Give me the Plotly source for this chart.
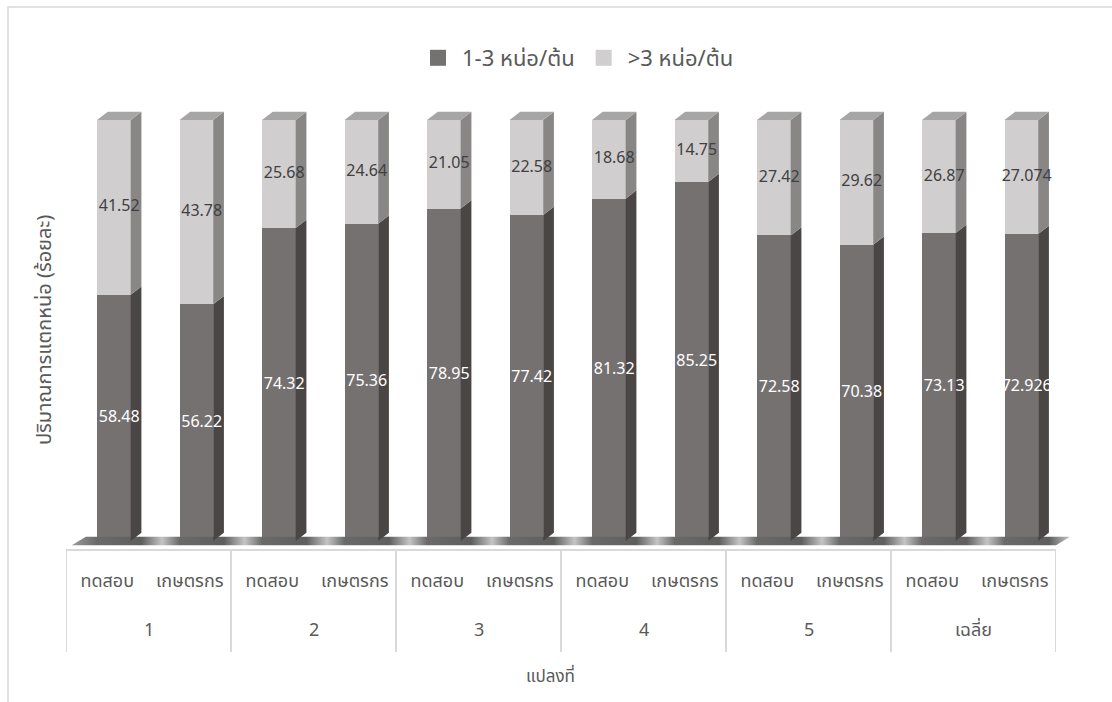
import plotly.graph_objects as go
import numpy as np

# ---------------- data ----------------
groups = ["1", "1", "2", "2", "3", "3", "4", "4", "5", "5", "เฉลี่ย", "เฉลี่ย"]
subs = ["ทดสอบ", "เกษตรกร"] * 6
low = [58.48, 56.22, 74.32, 75.36, 78.95, 77.42, 81.32, 85.25, 72.58, 70.38, 73.13, 72.926]
high = [41.52, 43.78, 25.68, 24.64, 21.05, 22.58, 18.68, 14.75, 27.42, 29.62, 26.87, 27.074]
low_labels = ["58.48", "56.22", "74.32", "75.36", "78.95", "77.42", "81.32", "85.25",
              "72.58", "70.38", "73.13", "72.926"]
high_labels = ["41.52", "43.78", "25.68", "24.64", "21.05", "22.58", "18.68", "14.75",
               "27.42", "29.62", "26.87", "27.074"]
series_names = ["1-3 หน่อ/ต้น", ">3 หน่อ/ต้น"]
y_title = "ปริมาณการแตกหน่อ (ร้อยละ)"
x_title = "แปลงที่"

# ---------------- style ----------------
FONT = "Noto Sans Thai, Leelawadee UI, Tahoma, Noto Sans, sans-serif"
W, H = 1112, 702
L, R, T, B = 66, 36, 100, 153
SLOT = 82.5
PW = W - L - R
PH = H - T - B
C_LOW, C_LOW_SIDE = "#767171", "#4b4646"
C_HIGH, C_HIGH_SIDE = "#d0cece", "#898686"
C_TOP = "#a6a6a6"
GRID = "#d9d9d9"
TXT = "#595959"


def py(pix):  # pixel row -> paper y
    return (H - B - pix) / PH


def px(pix):  # pixel column -> paper x
    return (pix - L) / PW


shift, bw, dx, dy = 0.08, 0.408, 0.13, 1.97

low = np.array(low)
high = np.array(high)
n = len(low)
idx = np.arange(n)
pos = idx + shift
xl = pos - bw / 2
xr = pos + bw / 2
top = low + high

# group spans for the two-level category table
group_names = list(dict.fromkeys(groups))
group_idx = [[i for i, g in enumerate(groups) if g == name] for name in group_names]
group_centers = [float(np.mean(ix)) for ix in group_idx]
boundaries = [ix[0] - 0.5 for ix in group_idx] + [group_idx[-1][-1] + 0.5]


def side_poly(y0, y1):
    xs, ys = [], []
    for i in range(n):
        xs += [xr[i], xr[i] + dx, xr[i] + dx, xr[i], xr[i], None]
        ys += [y0[i], y0[i] + dy, y1[i] + dy, y1[i], y0[i], None]
    return xs, ys


def top_poly(yt):
    xs, ys = [], []
    for i in range(n):
        xs += [xl[i], xr[i], xr[i] + dx, xl[i] + dx, xl[i], None]
        ys += [yt[i], yt[i], yt[i] + dy, yt[i] + dy, yt[i], None]
    return xs, ys


fig = go.Figure()

# category axis host trace (invisible)
fig.add_trace(go.Scatter(x=idx, y=low, mode="markers",
                         marker=dict(opacity=0, size=1), showlegend=False,
                         hoverinfo="skip", xaxis="x", yaxis="y"))

# floor with shaded gradient (dark under bars, lighter in gaps)
fx0, fx1 = -0.5 + 0.07, 11.5
fdx, fh = 0.17, 1.0
fxe = fx1 + fdx
stops = []
for i in range(n):
    a = (xl[i] - fx0) / (fxe - fx0)
    b = (xr[i] + dx - fx0) / (fxe - fx0)
    g = (xr[i] + dx + 0.25 - fx0) / (fxe - fx0)
    stops += [(a, "#6a6a6a"), (b, "#5e5e5e"), (min(g, 1), "#c4c4c4")]
stops = [(0.0, "#9a9a9a")] + stops + [(1.0, "#9a9a9a")]
cleaned = []
last = -1
for s, c in stops:
    s = float(min(max(s, 0), 1))
    if s < last:
        s = last
    cleaned.append([s, c])
    last = s
fig.add_trace(go.Scatter(x=[fx0, fx1, fxe, fx0 + fdx, fx0],
                         y=[-fh, -fh, fh, fh, -fh], mode="lines", fill="toself",
                         fillgradient=dict(type="horizontal", colorscale=cleaned,
                                           start=fx0, stop=fxe),
                         line=dict(width=0), showlegend=False,
                         hoverinfo="skip", xaxis="x2", yaxis="y"))

# front faces
fig.add_trace(go.Bar(x=pos, y=low, width=bw, marker=dict(color=C_LOW, line=dict(width=0)),
                     showlegend=False, hoverinfo="skip", xaxis="x2", yaxis="y"))
fig.add_trace(go.Bar(x=pos, y=high, width=bw, marker=dict(color=C_HIGH, line=dict(width=0)),
                     showlegend=False, hoverinfo="skip", xaxis="x2", yaxis="y"))

# side faces
sx, sy = side_poly(np.zeros(n), low)
fig.add_trace(go.Scatter(x=sx, y=sy, mode="lines", fill="toself", fillcolor=C_LOW_SIDE,
                         line=dict(width=0), showlegend=False, hoverinfo="skip",
                         xaxis="x2", yaxis="y"))
sx, sy = side_poly(low, top)
fig.add_trace(go.Scatter(x=sx, y=sy, mode="lines", fill="toself", fillcolor=C_HIGH_SIDE,
                         line=dict(width=0), showlegend=False, hoverinfo="skip",
                         xaxis="x2", yaxis="y"))
tx, ty = top_poly(top)
fig.add_trace(go.Scatter(x=tx, y=ty, mode="lines", fill="toself", fillcolor=C_TOP,
                         line=dict(width=0), showlegend=False, hoverinfo="skip",
                         xaxis="x2", yaxis="y"))

# data labels
fig.add_trace(go.Scatter(x=pos + dx / 2, y=low / 2, mode="text", text=low_labels,
                         textfont=dict(family=FONT, size=16, color="white"),
                         showlegend=False, hoverinfo="skip", xaxis="x2", yaxis="y"))
fig.add_trace(go.Scatter(x=pos + dx / 2, y=low + high / 2, mode="text", text=high_labels,
                         textfont=dict(family=FONT, size=16, color="#404040"),
                         showlegend=False, hoverinfo="skip", xaxis="x2", yaxis="y"))

# legend entries
for name, col in zip(series_names, [C_LOW, C_HIGH]):
    fig.add_trace(go.Scatter(x=[None], y=[None], mode="markers", name=name,
                             marker=dict(symbol="square", size=18, color=col),
                             xaxis="x2", yaxis="y"))

shapes = [dict(type="rect", xref="paper", yref="paper",
               x0=px(8), x1=px(W + 10), y0=py(H + 10), y1=py(7),
               line=dict(color=GRID, width=1.5), layer="below")]
for bx in boundaries:
    shapes.append(dict(type="line", xref="x", yref="paper", x0=bx, x1=bx,
                       y0=py(549), y1=py(652), line=dict(color=GRID, width=2),
                       layer="below"))

annotations = [
    dict(text=y_title, xref="paper", yref="paper", x=px(45), y=py(330),
         textangle=-90, showarrow=False, font=dict(size=20, color=TXT),
         xanchor="center", yanchor="middle"),
    dict(text=x_title, xref="paper", yref="paper", x=px(550), y=py(677),
         showarrow=False, font=dict(size=17, color=TXT),
         xanchor="center", yanchor="middle"),
]
for name, cx in zip(group_names, group_centers):
    annotations.append(dict(text=name, xref="x", yref="paper", x=cx, y=py(630),
                            showarrow=False, font=dict(size=18, color=TXT),
                            xanchor="center", yanchor="middle"))

fig.update_layout(
    width=W, height=H,
    margin=dict(l=L, r=R, t=T, b=B),
    paper_bgcolor="white", plot_bgcolor="rgba(0,0,0,0)",
    font=dict(family=FONT, color=TXT),
    barmode="stack", bargap=0,
    showlegend=True,
    legend=dict(orientation="h", x=px(414), xanchor="left",
                y=py(58), yanchor="middle", traceorder="normal", itemwidth=38,
                font=dict(size=22, color=TXT), bgcolor="rgba(0,0,0,0)"),
    xaxis=dict(domain=[0, 12 * SLOT / PW], range=[-0.5, 11.5], anchor="y",
               tickmode="array", tickvals=idx, ticktext=subs,
               showline=True, linecolor=GRID, linewidth=2,
               tickfont=dict(size=18, color=TXT), ticks="", ticklabelstandoff=14,
               showgrid=False, zeroline=False, fixedrange=True),
    xaxis2=dict(domain=[0, 1], range=[-0.5, -0.5 + PW / SLOT], anchor="y",
                visible=False, fixedrange=True),
    yaxis=dict(range=[-1.9, 104.75], visible=False, fixedrange=True),
    shapes=shapes,
    annotations=annotations,
)

fig.write_html("out.html")
